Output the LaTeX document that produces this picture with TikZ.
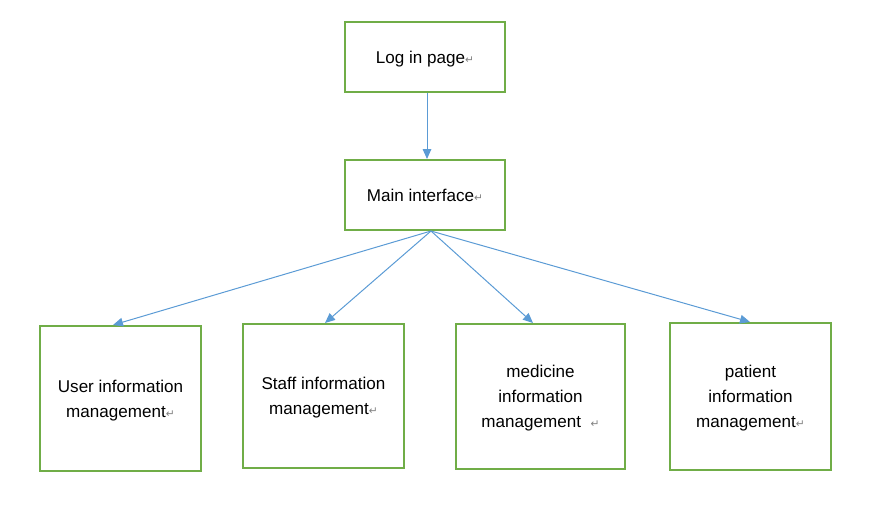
\documentclass[tikz,border=0pt]{standalone}
\usepackage{fontspec}
\setmainfont{Liberation Sans}
\newfontfamily\markfont{DejaVu Sans}
\usetikzlibrary{arrows.meta,calc}

\definecolor{boxgreen}{HTML}{70AD47}
\definecolor{linkblue}{HTML}{5B9BD5}
\newcommand{\pmark}{{\markfont\color{gray}\fontsize{8}{8}\selectfont ↵}}

\tikzset{
  module/.style={draw=boxgreen,line width=1.5pt,align=center,inner sep=0pt,
    font=\fontsize{12.8}{18.9}\selectfont,text depth=-3.5pt},
  link/.style={draw=linkblue,line width=0.75pt,-{Triangle[length=7.5pt,width=6.5pt]}}
}

\begin{document}
\begin{tikzpicture}[x=0.75pt,y=-0.75pt]
            \useasboundingbox (0,0) rectangle (873,504);
            \node[module,minimum width=120pt,minimum height=52.5pt] (login) at (425,57) {Log in page\pmark};
            \node[module,minimum width=120pt,minimum height=52.5pt] (main) at (425,195) {Main interface\pmark};
            \node[module,minimum width=120.75pt,minimum height=108.75pt] (user) at (120.5,398.5) {User information\\ management\pmark};
            \node[module,minimum width=120.75pt,minimum height=108pt] (staff) at (323.5,396) {Staff information\\ management\pmark};
            \node[module,minimum width=126.75pt,minimum height=108.75pt] (medicine) at (540.5,396.5) {medicine\\ information\\ management\ \ \pmark};
            \node[module,minimum width=120.75pt,minimum height=110.25pt] (patient) at (750.5,396.5) {patient\\ information\\ management\pmark};
            \coordinate (hub) at ($(main.south)+(6,0)$);
            \draw[link] ($(login.south)+(2,0)$) -- ($(main.north)+(2,0)$);
            \draw[link] (hub) -- ($(user.north)+(-7.5,0)$);
            \draw[link] (hub) -- ($(staff.north)+(1.5,0)$);
            \draw[link] (hub) -- ($(medicine.north)+(-7.5,0)$);
            \draw[link] (hub) -- ($(patient.north)+(-0.5,0)$);
        \end{tikzpicture}
\end{document}
